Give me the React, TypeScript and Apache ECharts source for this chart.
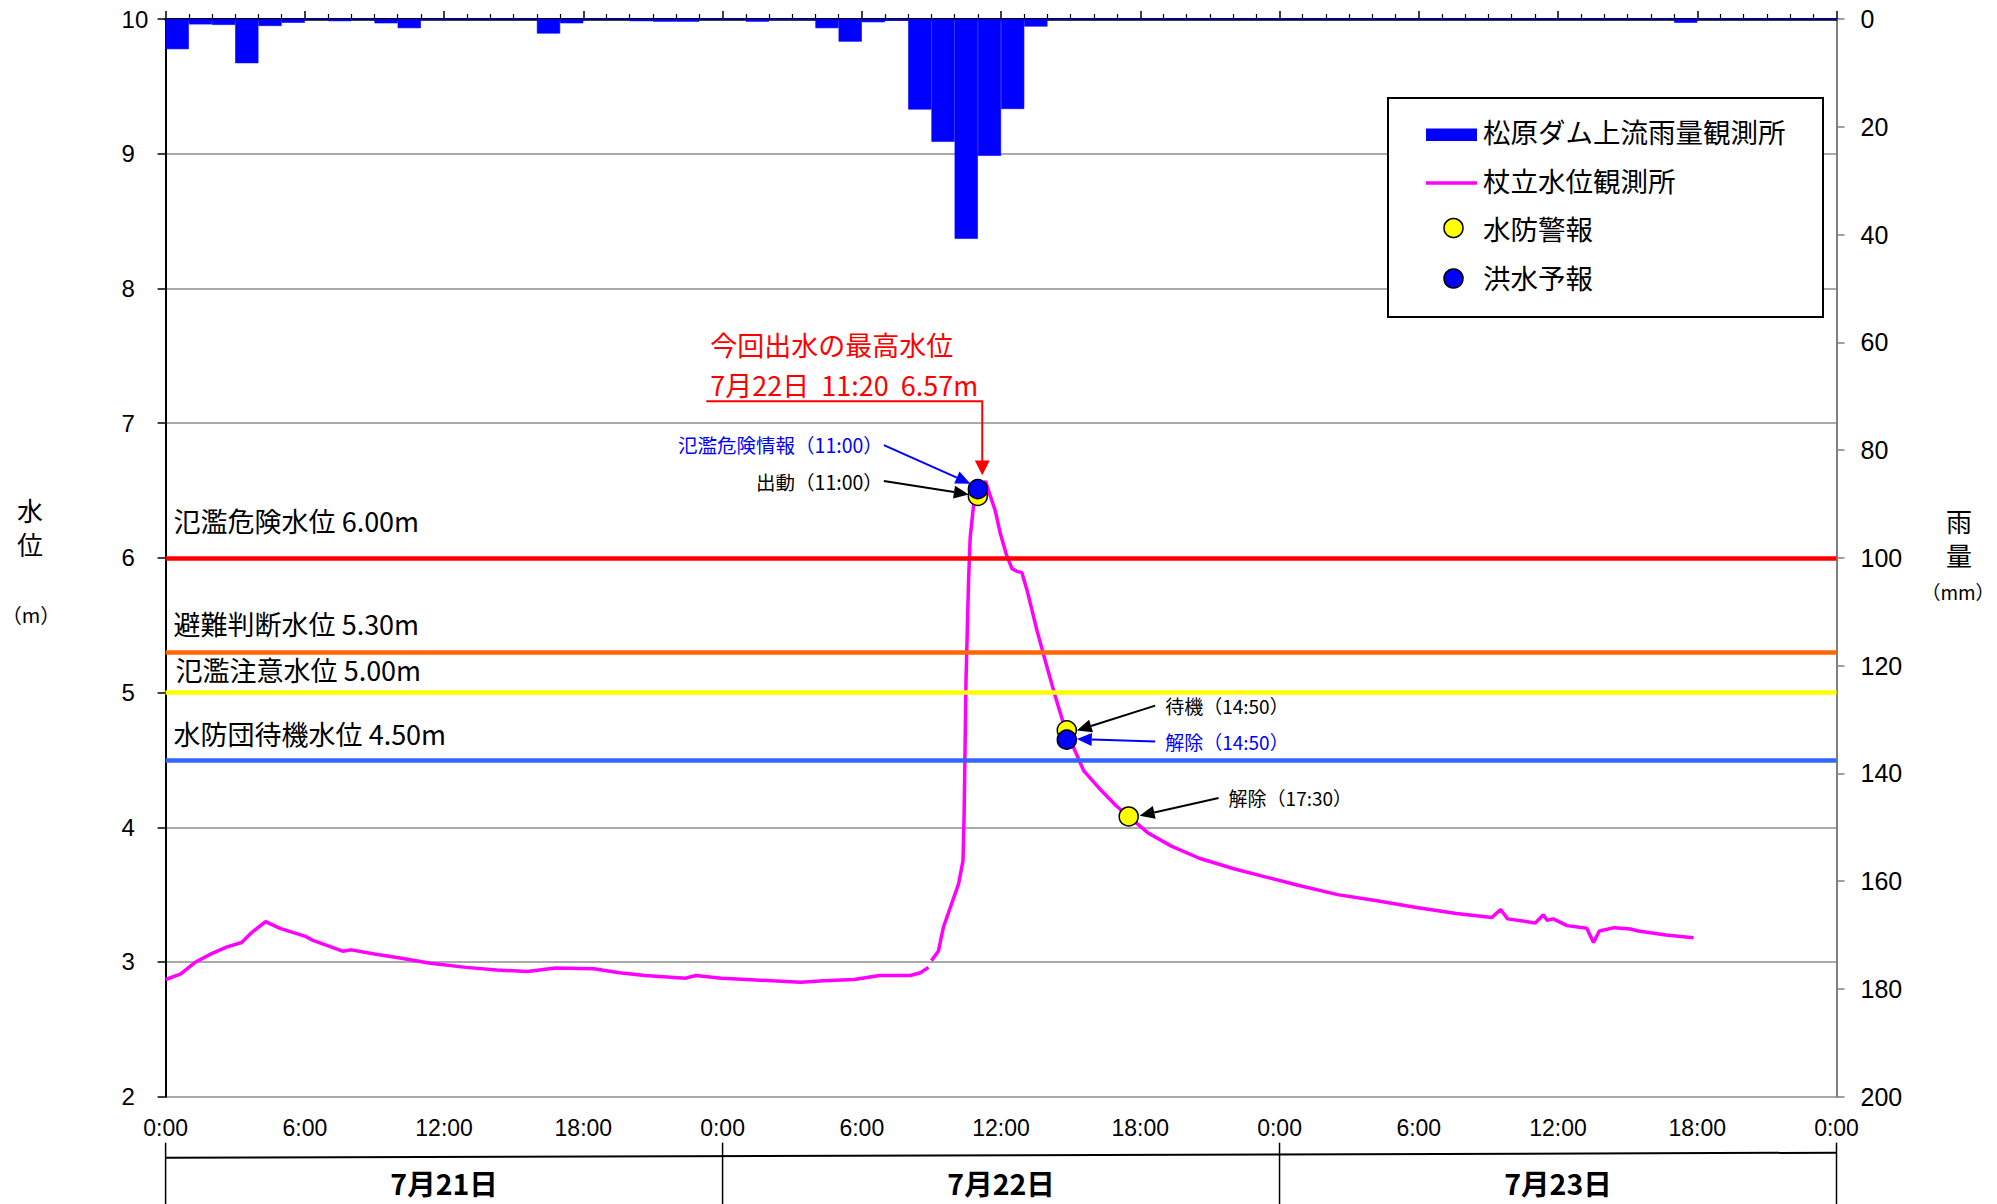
import React, { useEffect, useRef } from 'react';
import * as echarts from 'echarts';

// ---------- DATA ----------
// hourly rainfall (mm), 7/21 0:00 .. 7/23 24:00 (72 hours)
const rainHours = [
  '0','1','2','3','4','5','6','7','8','9','10','11','12','13','14','15','16','17','18','19','20','21','22','23',
  '24','25','26','27','28','29','30','31','32','33','34','35','36','37','38','39','40','41','42','43','44','45','46','47',
  '48','49','50','51','52','53','54','55','56','57','58','59','60','61','62','63','64','65','66','67','68','69','70','71',
];
const rainfall = [
  5.6, 1.0, 1.1, 8.2, 1.3, 0.7, 0, 0.4, 0, 0.8, 1.7, 0.2, 0, 0, 0, 0, 2.7, 0.8, 0, 0, 0.4, 0.5, 0.5, 0,
  0, 0.5, 0.2, 0.2, 1.7, 4.2, 0.6, 0.3, 16.8, 22.8, 40.8, 25.4, 16.7, 1.4, 0.2, 0, 0, 0, 0, 0, 0, 0.1, 0, 0,
  0, 0, 0, 0.1, 0, 0, 0, 0, 0, 0, 0, 0, 0, 0, 0, 0, 0, 0.7, 0, 0, 0, 0, 0, 0,
];

// water level (m) at 杖立, time in hours from 7/21 0:00
const levelHours = [
  0.0, 0.64, 1.3, 1.96, 2.62, 3.28, 3.72, 4.31, 4.93, 6.03, 6.35, 7.63, 8.0, 9.0, 10.1, 11.41, 12.95, 14.27,
  15.59, 16.8, 18.45, 19.55, 20.65, 22.41, 22.85, 23.95, 25.05, 26.15, 27.36, 28.35, 29.67, 30.77, 32.09,
  32.53, 32.87, 32.93, 33.0, 33.3, 33.52, 34.17, 34.36, 34.41, 34.49, 34.6, 34.67, 34.84, 35.0, 35.333,
  35.46, 35.75, 35.97, 36.22, 36.47, 36.68, 36.9, 37.12, 37.55, 37.98, 38.34, 38.69, 38.83, 39.13, 39.56,
  40.28, 40.96, 41.5, 42.32, 43.34, 44.54, 46.07, 47.43, 48.8, 50.5, 52.2, 53.9, 55.62, 57.15, 57.53,
  57.83, 59.02, 59.37, 59.53, 59.8, 60.39, 61.24, 61.53, 61.78, 62.43, 63.12, 63.46, 64.65, 65.84,
];
const levelValues = [
  2.87, 2.91, 3.0, 3.06, 3.11, 3.145, 3.22, 3.3, 3.25, 3.19, 3.16, 3.08, 3.09, 3.06, 3.03, 2.99, 2.96, 2.94,
  2.93, 2.955, 2.95, 2.92, 2.9, 2.88, 2.9, 2.88, 2.87, 2.86, 2.85, 2.86, 2.87, 2.9, 2.9,
  2.92, 2.96, null, 3.01, 3.08, 3.26, 3.58, 3.75, 4.1, 5.09, 5.83, 6.15, 6.43, 6.47, 6.57,
  6.5, 6.35, 6.18, 6.03, 5.92, 5.9, 5.89, 5.76, 5.46, 5.19, 4.97, 4.77, 4.72, 4.59, 4.42,
  4.28, 4.16, 4.08, 3.96, 3.86, 3.77, 3.69, 3.63, 3.57, 3.5, 3.455, 3.405, 3.36, 3.33, 3.39,
  3.32, 3.29, 3.35, 3.31, 3.32, 3.27, 3.25, 3.145, 3.23, 3.255, 3.245, 3.23, 3.2, 3.18,
];

// 水防警報 (yellow) and 洪水予報 (blue) event points
const warningHours = [35.0, 38.833, 41.5];
const warningValues = [6.46, 4.72, 4.08];
const forecastHours = [35.0, 38.833];
const forecastValues = [6.51, 4.65];

// peak
const peakHour = 35.333;
const peakValue = 6.57;

// threshold levels
const thresholdValues = [6.0, 5.3, 5.0, 4.5];
const thresholdLabels = ['氾濫危険水位 6.00m', '避難判断水位 5.30m', '氾濫注意水位 5.00m', '水防団待機水位 4.50m'];
const dayLabels = ['7月21日', '7月22日', '7月23日'];
const dayStartHours = [0, 24, 48, 72];

// ---------- STYLE ----------
const thresholdColors = ['#FF0000', '#FF6600', '#FFFF00', '#3366FF'];
const thresholdLabelDist = [[8, 24], [8, 15], [10, 10], [8, 13]];
const JP = "'Noto Sans CJK JP', 'Noto Sans', sans-serif";
const LAT = "'Liberation Sans', Arial, sans-serif";

function arrow(x1: number, y1: number, x2: number, y2: number, color: string, headLen = 15, headHalf = 6.5) {
  const dx = x2 - x1, dy = y2 - y1;
  const len = Math.hypot(dx, dy);
  const ux = dx / len, uy = dy / len;
  const bx = x2 - ux * headLen, by = y2 - uy * headLen;
  const nx = -uy, ny = ux;
  return [
    { type: 'line', silent: true, z: 100, shape: { x1, y1, x2: bx, y2: by }, style: { stroke: color, lineWidth: 2 } },
    {
      type: 'polygon', silent: true, z: 100,
      shape: { points: [[x2, y2], [bx + nx * headHalf, by + ny * headHalf], [bx - nx * headHalf, by - ny * headHalf]] },
      style: { fill: color },
    },
  ];
}

function txt(text: string, x: number, y: number, size: number, color = '#000', align = 'left', weight = 'normal', family = JP, lineHeight?: number) {
  const style: any = {
    text, fill: color, fontSize: size, fontFamily: family, fontWeight: weight,
    textAlign: align, textVerticalAlign: 'middle', align, verticalAlign: 'middle',
  };
  if (lineHeight) style.lineHeight = lineHeight;
  return { type: 'text', silent: true, z: 100, x, y, style };
}

export default function App() {
  const ref = useRef<HTMLDivElement>(null);

  useEffect(() => {
    document.body.style.margin = '0';
    const chart = echarts.init(ref.current!, null, { renderer: 'svg' });

    const option: any = {
      animation: false,
      backgroundColor: '#fff',
      grid: { left: 165.6, right: 160.5, top: 19, bottom: 107.3, containLabel: false },
      xAxis: [
        {
          type: 'value', min: 0, max: 72, interval: 6, position: 'bottom',
          axisLine: { show: true, lineStyle: { color: '#000', width: 2.5 } },
          axisTick: { show: true, inside: true, length: 8, lineStyle: { color: '#000', width: 1.5 } },
          minorTick: { show: true, splitNumber: 6, length: 5, lineStyle: { color: '#000', width: 1.2 } },
          axisLabel: {
            fontSize: 23, color: '#000', fontFamily: LAT, margin: 20, showMaxLabel: true, showMinLabel: true,
            formatter: (v: number) => `${v % 24}:00`,
          },
          splitLine: { show: false },
        },
        {
          type: 'category', data: rainHours, position: 'top', boundaryGap: true,
          axisLine: { show: true, lineStyle: { color: '#000', width: 2 } },
          axisTick: { show: false }, axisLabel: { show: false }, splitLine: { show: false },
        },
      ],
      yAxis: [
        {
          type: 'value', min: 2, max: 10, interval: 1, position: 'left',
          axisLine: { show: true, lineStyle: { color: '#000', width: 2 } },
          axisTick: { show: true, inside: false, length: 8, lineStyle: { color: '#000', width: 1.5 } },
          axisLabel: { fontSize: 24, color: '#000', fontFamily: LAT, align: 'left', margin: 44 },
          splitLine: { show: true, lineStyle: { color: '#8c8c8c', width: 1.5 } },
        },
        {
          type: 'value', min: 0, max: 200, interval: 20, position: 'right', inverse: true,
          axisLine: { show: true, lineStyle: { color: '#808080', width: 2 } },
          axisTick: { show: true, inside: false, length: 8, lineStyle: { color: '#808080', width: 1.5 } },
          axisLabel: { fontSize: 25, color: '#000', fontFamily: LAT, margin: 24 },
          splitLine: { show: false },
        },
      ],
      series: [
        {
          name: '松原ダム上流雨量観測所', type: 'bar', xAxisIndex: 1, yAxisIndex: 1,
          data: rainfall, barCategoryGap: '0%', barGap: '0%',
          itemStyle: { color: '#0000FF', borderColor: '#0000FF', borderWidth: 0.6 }, z: 2,
        },
        {
          name: 'thresholds', type: 'line', xAxisIndex: 0, yAxisIndex: 0, data: [], z: 3,
          markLine: {
            silent: true, symbol: ['none', 'none'], animation: false,
            data: thresholdValues.map((v, i) => ({
              yAxis: v,
              lineStyle: { color: thresholdColors[i], width: 4.5, type: 'solid' },
              label: {
                show: true, position: 'insideStartTop', formatter: thresholdLabels[i],
                distance: thresholdLabelDist[i], color: '#000', fontSize: 27, fontFamily: JP,
              },
            })),
          },
        },
        {
          name: '杖立水位観測所', type: 'line', xAxisIndex: 0, yAxisIndex: 0,
          data: levelHours.map((h, i) => [h, levelValues[i]]),
          showSymbol: false, symbol: 'none', connectNulls: false,
          lineStyle: { color: '#FF00FF', width: 3.5 }, z: 4,
        },
        {
          name: '水防警報', type: 'scatter', xAxisIndex: 0, yAxisIndex: 0,
          data: warningHours.map((h, i) => [h, warningValues[i]]),
          symbol: 'circle', symbolSize: 19,
          itemStyle: { color: '#FFFF00', borderColor: '#000', borderWidth: 1.5, opacity: 1 }, z: 5,
        },
        {
          name: '洪水予報', type: 'scatter', xAxisIndex: 0, yAxisIndex: 0,
          data: forecastHours.map((h, i) => [h, forecastValues[i]]),
          symbol: 'circle', symbolSize: 19,
          itemStyle: { color: '#0000FF', borderColor: '#000', borderWidth: 1.5, opacity: 1 }, z: 6,
        },
      ],
    };
    chart.setOption(option);

    const px = (x: number, y: number) => chart.convertToPixel({ xAxisIndex: 0, yAxisIndex: 0 }, [x, y]) as number[];
    const P = px(peakHour, peakValue);
    const B1 = px(forecastHours[0], forecastValues[0]);
    const Y1 = px(warningHours[0], warningValues[0]);
    const Y2 = px(warningHours[1], warningValues[1]);
    const B2 = px(forecastHours[1], forecastValues[1]);
    const Y3 = px(warningHours[2], warningValues[2]);
    const dayX = dayStartHours.map((h) => px(h, 2)[0]);
    const axisY = px(0, 2)[1];

    const g: any[] = [];

    // Red peak annotation
    const cornerX = P[0] - 3.3, lineY = P[1] - 79.7;
    g.push({
      type: 'polyline', silent: true, z: 100,
      shape: { points: [[P[0] - 279.3, lineY], [cornerX, lineY], [cornerX, P[1] - 20]] },
      style: { stroke: '#FF0000', lineWidth: 2, fill: 'none' },
    });
    g.push({
      type: 'polygon', silent: true, z: 100,
      shape: { points: [[cornerX, P[1] - 5.7], [cornerX - 7.5, P[1] - 20.5], [cornerX + 7.5, P[1] - 20.5]] },
      style: { fill: '#FF0000' },
    });
    g.push(txt(`今回出水の最高水位\n7月22日  11:20  ${peakValue.toFixed(2)}m`, P[0] - 275.3, P[1] - 116.5, 27, '#FF0000', 'left', 'normal', JP, 39.5));

    // 11:00 annotations
    g.push(...arrow(B1[0] - 94, B1[1] - 44, B1[0] - 7.3, B1[1] - 5.5, '#0000FF'));
    g.push(txt('氾濫危険情報（11:00）', B1[0] - 95, B1[1] - 45, 19.5, '#0000FF', 'right'));
    g.push(...arrow(Y1[0] - 94, Y1[1] - 14.8, Y1[0] - 9, Y1[1] - 1.5, '#000'));
    g.push(txt('出動（11:00）', Y1[0] - 95, Y1[1] - 14.5, 19.5, '#000', 'right'));

    // 14:50 annotations
    g.push(...arrow(Y2[0] + 88.4, Y2[1] - 24.7, Y2[0] + 10, Y2[1] + 0.3, '#000'));
    g.push(txt('待機（14:50）', Y2[0] + 98.4, Y2[1] - 25, 19, '#000'));
    g.push(...arrow(B2[0] + 88.4, B2[1] + 1.9, B2[0] + 10, B2[1] - 0.8, '#0000FF'));
    g.push(txt('解除（14:50）', B2[0] + 98.4, B2[1] + 2.2, 19, '#0000FF'));

    // 17:30 annotation
    g.push(...arrow(Y3[0] + 89.9, Y3[1] - 18.5, Y3[0] + 10.9, Y3[1] - 0.8, '#000'));
    g.push(txt('解除（17:30）', Y3[0] + 99.9, Y3[1] - 18.5, 19, '#000'));

    // Legend
    g.push({ type: 'rect', silent: true, z: 90, shape: { x: 1388, y: 98, width: 435, height: 219 }, style: { fill: '#fff', stroke: '#000', lineWidth: 2 } });
    g.push({ type: 'rect', silent: true, z: 100, shape: { x: 1426, y: 128.5, width: 51, height: 12.5 }, style: { fill: '#0000FF' } });
    g.push({ type: 'line', silent: true, z: 100, shape: { x1: 1426, y1: 183, x2: 1477, y2: 183 }, style: { stroke: '#FF00FF', lineWidth: 3.5 } });
    g.push({ type: 'circle', silent: true, z: 100, shape: { cx: 1453.5, cy: 228, r: 9.5 }, style: { fill: '#FFFF00', stroke: '#000', lineWidth: 1.5 } });
    g.push({ type: 'circle', silent: true, z: 100, shape: { cx: 1453.5, cy: 278.5, r: 9.5 }, style: { fill: '#0000FF', stroke: '#000', lineWidth: 1.5 } });
    g.push(txt('松原ダム上流雨量観測所', 1483, 131, 27.5));
    g.push(txt('杖立水位観測所', 1483, 179.5, 27.5));
    g.push(txt('水防警報', 1483, 228, 27.5));
    g.push(txt('洪水予報', 1483, 277, 27.5));

    // Axis titles
    g.push(txt('水', 30, 509, 26, '#000', 'center'));
    g.push(txt('位', 30, 543, 26, '#000', 'center'));
    g.push(txt('（m）', 31, 614, 20, '#000', 'center'));
    g.push(txt('雨', 1959, 520, 26, '#000', 'center'));
    g.push(txt('量', 1959, 554, 26, '#000', 'center'));
    g.push(txt('（mm）', 1958, 591, 19, '#000', 'center'));

    // Day band under the axis
    g.push({
      type: 'line', silent: true, z: 100,
      shape: { x1: dayX[0], y1: axisY + 61, x2: dayX[3], y2: axisY + 56 },
      style: { stroke: '#000', lineWidth: 2 },
    });
    dayX.forEach((x) => {
      g.push({ type: 'line', silent: true, z: 100, shape: { x1: x, y1: axisY + 46, x2: x, y2: 1204 }, style: { stroke: '#000', lineWidth: 1.5 } });
    });
    dayLabels.forEach((d, i) => {
      g.push(txt(d, (dayX[i] + dayX[i + 1]) / 2, axisY + 86, 28.5, '#000', 'center', 'bold'));
    });

    chart.setOption({ graphic: g });

    return () => chart.dispose();
  }, []);

  return <div ref={ref} style={{ width: 1997, height: 1204 }} />;
}
